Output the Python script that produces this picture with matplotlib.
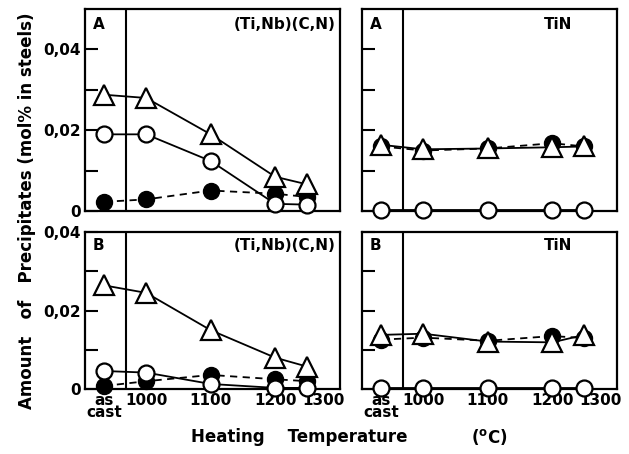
import matplotlib
matplotlib.use("Agg")
import matplotlib.pyplot as plt

plt.rcParams["font.family"] = ["DejaVu Sans"]
plt.rcParams["font.weight"] = "bold"

# x positions: "as cast" sits left of the divider, then heating temperatures
AS_CAST = 935
DIVIDER = 968
temps = [AS_CAST, 1000, 1100, 1200, 1250]

# (Ti,Nb)(C,N), steel A
a_nbc_tri = [0.0288, 0.0280, 0.0190, 0.0085, 0.0066]
a_nbc_open = [0.0190, 0.0190, 0.0124, 0.0018, 0.0016]
a_nbc_fill = [0.0023, 0.0029, 0.0051, 0.0043, 0.0035]

# (Ti,Nb)(C,N), steel B
b_nbc_tri = [0.0264, 0.0245, 0.0150, 0.0080, 0.0057]
b_nbc_open = [0.0046, 0.0042, 0.0013, 0.0003, 0.0003]
b_nbc_fill = [0.0008, 0.0020, 0.0036, 0.0025, 0.0020]

# TiN, steel A
a_tin_tri = [0.0164, 0.0153, 0.0155, 0.0158, 0.0160]
a_tin_open = [0.0003, 0.0003, 0.0003, 0.0003, 0.0003]
a_tin_fill = [0.0160, 0.0150, 0.0155, 0.0168, 0.0160]

# TiN, steel B
b_tin_tri = [0.0138, 0.0141, 0.0121, 0.0119, 0.0138]
b_tin_open = [0.0003, 0.0003, 0.0003, 0.0003, 0.0003]
b_tin_fill = [0.0126, 0.0131, 0.0123, 0.0135, 0.0130]

tick_pos = [AS_CAST, 1000, 1100, 1200, 1275]
tick_labels = ["as\ncast", "1000", "1100", "1200", "1300"]

fig = plt.figure(figsize=(6.29, 4.54), dpi=100)

L_LEFT, R_LEFT, WIDTH = 0.135, 0.5755, 0.405
TOP_B, TOP_H = 0.535, 0.445
BOT_B, BOT_H = 0.143, 0.346

panels = [
    ([L_LEFT, TOP_B, WIDTH, TOP_H], "A", "(Ti,Nb)(C,N)", 0.05, True, False,
     a_nbc_tri, a_nbc_open, a_nbc_fill),
    ([R_LEFT, TOP_B, WIDTH, TOP_H], "A", "TiN", 0.05, False, False,
     a_tin_tri, a_tin_open, a_tin_fill),
    ([L_LEFT, BOT_B, WIDTH, BOT_H], "B", "(Ti,Nb)(C,N)", 0.04, True, True,
     b_nbc_tri, b_nbc_open, b_nbc_fill),
    ([R_LEFT, BOT_B, WIDTH, BOT_H], "B", "TiN", 0.04, False, True,
     b_tin_tri, b_tin_open, b_tin_fill),
]

for rect, tag, phase, ytop, ylabels, xlabels, tri, opn, fill in panels:
    ax = fig.add_axes(rect)
    ax.plot(temps, fill, ls=(0, (4, 3)), color="black", lw=1.3,
            marker="o", ms=11.5, mfc="black", mec="black", zorder=2,
            clip_on=False)
    ax.plot(temps, opn, ls="-", color="black", lw=1.3,
            marker="o", ms=11.5, mfc="white", mec="black", mew=1.6, zorder=3,
            clip_on=False)
    ax.plot(temps, tri, ls="-", color="black", lw=1.3,
            marker="^", ms=15, mfc="white", mec="black", mew=1.6, zorder=4,
            clip_on=False)
    ax.axvline(DIVIDER, color="black", lw=1.5, zorder=5)

    ax.set_xlim(905, 1300)
    ax.set_ylim(0, ytop)
    for s in ax.spines.values():
        s.set_linewidth(1.6)

    ax.set_yticks([0.0, 0.01, 0.02, 0.03, 0.04][: int(round(ytop * 100)) + 1])
    if ylabels:
        labs = ["0", "", "0,02", "", "0,04"][: len(ax.get_yticks())]
        ax.set_yticklabels(labs, fontsize=11, fontweight="bold")
    else:
        ax.set_yticklabels([])
    ax.tick_params(axis="y", direction="in", length=9, width=1.5, pad=3)

    ax.set_xticks(tick_pos)
    if xlabels:
        ax.set_xticklabels(tick_labels, fontsize=11, fontweight="bold",
                           linespacing=0.75, va="top")
    else:
        ax.set_xticklabels([])
    ax.tick_params(axis="x", which="major", length=0, pad=3)
    ax.set_xticks([1000, 1100, 1200], minor=True)
    ax.tick_params(axis="x", which="minor", direction="in", length=6, width=1.3)

    ax.text(0.03, 0.96, tag, transform=ax.transAxes, ha="left", va="top",
            fontsize=11, fontweight="bold")
    if phase == "TiN":
        ax.text(0.77, 0.96, phase, transform=ax.transAxes, ha="center",
                va="top", fontsize=11, fontweight="bold")
    else:
        ax.text(0.985, 0.96, phase, transform=ax.transAxes, ha="right",
                va="top", fontsize=11, fontweight="bold")

fig.text(0.043, 0.535, "Amount   of   Precipitates (mol% in steels)",
         rotation=90, ha="center", va="center", fontsize=12, fontweight="bold")
fig.text(0.475, 0.037, "Heating    Temperature", ha="center", va="center",
         fontsize=12, fontweight="bold")
fig.text(0.778, 0.037, "($^{\\mathbf{o}}$C)", ha="center", va="center",
         fontsize=12, fontweight="bold")

fig.savefig("out.png", dpi=100)
